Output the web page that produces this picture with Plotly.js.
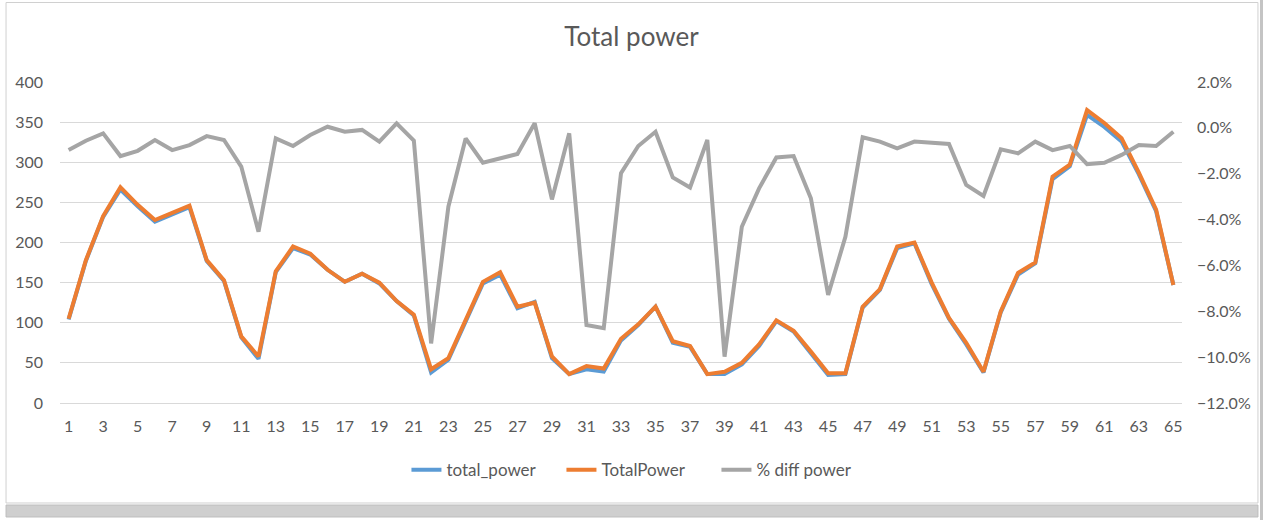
<!DOCTYPE html>
<html>
<head>
<meta charset="utf-8">
<script src="https://cdn.plot.ly/plotly-3.0.1.min.js"></script>
<style>
html,body{margin:0;padding:0;background:#fff;}
#chart{width:1263px;height:520px;}
</style>
</head>
<body>
<div id="chart"></div>
<script>
// Categories 1..65
const categories = [1,2,3,4,5,6,7,8,9,10,11,12,13,14,15,16,17,18,19,20,21,22,23,24,25,26,27,28,29,30,31,32,33,34,35,36,37,38,39,40,41,42,43,44,45,46,47,48,49,50,51,52,53,54,55,56,57,58,59,60,61,62,63,64,65];

const totalPowerBlue = [104,177,232,266,245,226,235,244,177,152,82,55,163,193,185,166,151,161,149,127,109,38,54,103,149,160,118,126,56,36,42,39,78,97,120,75,70,36,36,48,71,102,89,62,35,36,119,141,193,199,148,105,73,38,113,160,174,279,295,359,344,326,285,239,147];

const totalPowerOrange = [105,178,233,269,247,228,237,246,178,153,83,58,164,195,186,166,151,161,150,127,110,42,56,104,151,163,120,125,58,36,46,43,80,98,120,77,71,36,39,50,73,103,90,64,37,37,120,142,195,200,150,106,75,39,114,162,175,282,297,365,349,330,287,241,147];

const pctDiff = [-0.97,-0.56,-0.24,-1.23,-1.0,-0.53,-0.97,-0.75,-0.36,-0.53,-1.69,-4.53,-0.46,-0.79,-0.31,0.05,-0.17,-0.09,-0.6,0.2,-0.56,-9.4,-3.44,-0.46,-1.52,-1.33,-1.14,0.2,-3.12,-0.24,-8.6,-8.74,-1.98,-0.79,-0.17,-2.16,-2.6,-0.53,-9.98,-4.31,-2.64,-1.29,-1.23,-3.07,-7.29,-4.75,-0.41,-0.6,-0.89,-0.6,-0.67,-0.7,-2.49,-2.97,-0.94,-1.11,-0.6,-0.97,-0.79,-1.58,-1.52,-1.18,-0.75,-0.79,-0.17];

const xTickLabels = [1,3,5,7,9,11,13,15,17,19,21,23,25,27,29,31,33,35,37,39,41,43,45,47,49,51,53,55,57,59,61,63,65];

const seriesNames = ['total_power','TotalPower','% diff power'];

const FONT = 'Lato, "Open Sans", sans-serif';
const TXT = '#595959';

const traces = [
  {x: categories, y: totalPowerBlue, name: seriesNames[0], type: 'scatter', mode: 'lines',
   line: {color: '#5B9BD5', width: 4}, yaxis: 'y'},
  {x: categories, y: totalPowerOrange, name: seriesNames[1], type: 'scatter', mode: 'lines',
   line: {color: '#ED7D31', width: 4}, yaxis: 'y'},
  {x: categories, y: pctDiff.map(v => v / 100), name: seriesNames[2], type: 'scatter', mode: 'lines',
   line: {color: '#A5A5A5', width: 4}, yaxis: 'y2'}
];

const layout = {
  width: 1263, height: 520,
  margin: {l: 60, r: 81, t: 82, b: 117},
  paper_bgcolor: '#ffffff', plot_bgcolor: '#ffffff',
  font: {family: FONT, color: TXT, size: 16},
  title: {text: 'Total power', font: {family: FONT, size: 26, color: TXT},
          x: 0.5, xanchor: 'center', y: 0.93, yanchor: 'middle'},
  showlegend: true,
  legend: {orientation: 'h', x: 0.516, xanchor: 'center', y: -0.209, yanchor: 'middle',
           font: {family: FONT, size: 17, color: TXT}, traceorder: 'normal',
           entrywidth: 110, entrywidthmode: 'pixels'},
  xaxis: {
    range: [0.5, 65.5], tickmode: 'array', tickvals: xTickLabels, ticktext: xTickLabels.map(String),
    showgrid: false, zeroline: false, showline: true, linecolor: '#D9D9D9', linewidth: 1,
    ticks: '', ticklabelstandoff: 9, tickfont: {family: FONT, size: 16, color: TXT}, fixedrange: true
  },
  yaxis: {
    range: [0, 400], dtick: 50, tick0: 0, showgrid: true, gridcolor: '#D9D9D9', gridwidth: 1,
    zeroline: false, showline: false, ticks: '', ticklabelstandoff: 16,
    tickfont: {family: FONT, size: 16, color: TXT}, fixedrange: true
  },
  yaxis2: {
    overlaying: 'y', side: 'right', range: [-0.12, 0.02], dtick: 0.02, tick0: 0,
    tickformat: '.1%', showgrid: false, zeroline: false, showline: false, ticks: '',
    ticklabelstandoff: 14,
    tickfont: {family: FONT, size: 16, color: TXT}, fixedrange: true
  },
  shapes: [
    {type: 'rect', xref: 'paper', yref: 'paper', x0: -0.0481, x1: 1.0677, y0: -0.3115, y1: 1.2477,
     line: {color: '#D0D0D0', width: 1}, fillcolor: 'rgba(0,0,0,0)', layer: 'below'},
    {type: 'rect', xref: 'paper', yref: 'paper', x0: -0.0481, x1: 1.0677, y0: -0.3551, y1: -0.3178,
     line: {color: '#BDBDBD', width: 1}, fillcolor: '#CFCFCF', layer: 'below'},
    {type: 'rect', xref: 'paper', yref: 'paper', x0: 1.0695, x1: 1.08, y0: -0.37, y1: 1.26,
     line: {width: 0}, fillcolor: '#C4C4C4', layer: 'below'}
  ]
};

Plotly.newPlot('chart', traces, layout, {displayModeBar: false, staticPlot: true});
</script>
</body>
</html>
